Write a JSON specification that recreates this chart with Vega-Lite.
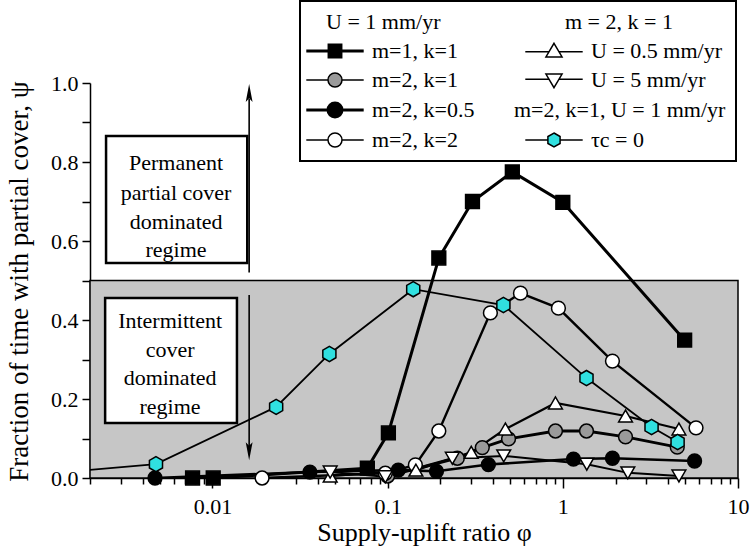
{
  "$schema": "https://vega.github.io/schema/vega-lite/v6.json",
  "width": 648,
  "height": 395,
  "autosize": {"type": "none"},
  "padding": {"left": 90, "top": 83, "right": 12, "bottom": 74},
  "background": "white",
  "datasets": {
    "series": [
      {"series": "m=1, k=1", "phi": 0.0077, "psi": 0},
      {"series": "m=1, k=1", "phi": 0.0101, "psi": 0},
      {"series": "m=1, k=1", "phi": 0.0766, "psi": 0.025},
      {"series": "m=1, k=1", "phi": 0.101, "psi": 0.114},
      {"series": "m=1, k=1", "phi": 0.196, "psi": 0.557},
      {"series": "m=1, k=1", "phi": 0.305, "psi": 0.7},
      {"series": "m=1, k=1", "phi": 0.515, "psi": 0.775},
      {"series": "m=1, k=1", "phi": 1.0, "psi": 0.698},
      {"series": "m=1, k=1", "phi": 4.96, "psi": 0.349},
      {"series": "m=2, k=1", "phi": 0.1, "psi": 0.005},
      {"series": "m=2, k=1", "phi": 0.25, "psi": 0.05},
      {"series": "m=2, k=1", "phi": 0.347, "psi": 0.077},
      {"series": "m=2, k=1", "phi": 0.49, "psi": 0.099},
      {"series": "m=2, k=1", "phi": 0.908, "psi": 0.119},
      {"series": "m=2, k=1", "phi": 1.365, "psi": 0.119},
      {"series": "m=2, k=1", "phi": 2.28, "psi": 0.104},
      {"series": "m=2, k=1", "phi": 4.5, "psi": 0.078},
      {"series": "m=2, k=0.5", "phi": 0.0047, "psi": 0},
      {"series": "m=2, k=0.5", "phi": 0.036, "psi": 0.015},
      {"series": "m=2, k=0.5", "phi": 0.115, "psi": 0.02},
      {"series": "m=2, k=0.5", "phi": 0.19, "psi": 0.017},
      {"series": "m=2, k=0.5", "phi": 0.376, "psi": 0.034},
      {"series": "m=2, k=0.5", "phi": 1.15, "psi": 0.048},
      {"series": "m=2, k=0.5", "phi": 1.92, "psi": 0.05},
      {"series": "m=2, k=0.5", "phi": 5.65, "psi": 0.043},
      {"series": "m=2, k=2", "phi": 0.0192, "psi": 0},
      {"series": "m=2, k=2", "phi": 0.097, "psi": 0.012},
      {"series": "m=2, k=2", "phi": 0.144, "psi": 0.033},
      {"series": "m=2, k=2", "phi": 0.196, "psi": 0.119},
      {"series": "m=2, k=2", "phi": 0.386, "psi": 0.418},
      {"series": "m=2, k=2", "phi": 0.573, "psi": 0.468},
      {"series": "m=2, k=2", "phi": 0.944, "psi": 0.43},
      {"series": "m=2, k=2", "phi": 1.92, "psi": 0.296},
      {"series": "m=2, k=2", "phi": 5.76, "psi": 0.127},
      {"series": "U = 0.5 mm/yr", "phi": 0.047, "psi": 0.005},
      {"series": "U = 0.5 mm/yr", "phi": 0.145, "psi": 0.02},
      {"series": "U = 0.5 mm/yr", "phi": 0.3, "psi": 0.065},
      {"series": "U = 0.5 mm/yr", "phi": 0.47, "psi": 0.124},
      {"series": "U = 0.5 mm/yr", "phi": 0.908, "psi": 0.19},
      {"series": "U = 0.5 mm/yr", "phi": 2.28, "psi": 0.157},
      {"series": "U = 0.5 mm/yr", "phi": 4.6, "psi": 0.124},
      {"series": "U = 5 mm/yr", "phi": 0.047, "psi": 0.015},
      {"series": "U = 5 mm/yr", "phi": 0.097, "psi": 0.003},
      {"series": "U = 5 mm/yr", "phi": 0.234, "psi": 0.05},
      {"series": "U = 5 mm/yr", "phi": 0.46, "psi": 0.056},
      {"series": "U = 5 mm/yr", "phi": 1.37, "psi": 0.035},
      {"series": "U = 5 mm/yr", "phi": 2.35, "psi": 0.013},
      {"series": "U = 5 mm/yr", "phi": 4.6, "psi": 0.005},
      {"series": "τc = 0", "phi": 0.001, "psi": 0.009},
      {"series": "τc = 0", "phi": 0.00476, "psi": 0.035},
      {"series": "τc = 0", "phi": 0.0231, "psi": 0.18},
      {"series": "τc = 0", "phi": 0.0465, "psi": 0.314},
      {"series": "τc = 0", "phi": 0.14, "psi": 0.478},
      {"series": "τc = 0", "phi": 0.458, "psi": 0.438},
      {"series": "τc = 0", "phi": 1.365, "psi": 0.253},
      {"series": "τc = 0", "phi": 3.21, "psi": 0.129},
      {"series": "τc = 0", "phi": 4.52, "psi": 0.091}
    ],
    "regime": [
      {"phi": 0.002, "phi2": 10, "psi": 0, "psi2": 0.5}
    ],
    "boxes": [
      {"phi": 0.00247, "phi2": 0.0158, "psi": 0.544, "psi2": 0.866},
      {"phi": 0.00244, "phi2": 0.0138, "psi": 0.139, "psi2": 0.456}
    ],
    "notes": [
      {"phi": 0.0062, "psi": 0.797, "label": "Permanent"},
      {"phi": 0.0062, "psi": 0.7215, "label": "partial cover"},
      {"phi": 0.0062, "psi": 0.648, "label": "dominated"},
      {"phi": 0.0062, "psi": 0.577, "label": "regime"},
      {"phi": 0.00573, "psi": 0.397, "label": "Intermittent"},
      {"phi": 0.00573, "psi": 0.324, "label": "cover"},
      {"phi": 0.00573, "psi": 0.253, "label": "dominated"},
      {"phi": 0.00573, "psi": 0.18, "label": "regime"}
    ],
    "shafts": [
      {"phi": 0.0162, "psi": 0.52, "psi2": 0.96},
      {"phi": 0.0162, "psi": 0.463, "psi2": 0.08}
    ],
    "heads": [
      {"phi": 0.0162, "psi": 0.975, "dir": "up"},
      {"phi": 0.0162, "psi": 0.068, "dir": "down"}
    ],
    "legendEntries": [
      {"entry": "U = 1 mm/yr"},
      {"entry": "m=1, k=1"},
      {"entry": "m=2, k=1"},
      {"entry": "m=2, k=0.5"},
      {"entry": "m=2, k=2"},
      {"entry": "m = 2, k = 1"},
      {"entry": "U = 0.5 mm/yr"},
      {"entry": "U = 5 mm/yr"},
      {"entry": "m=2, k=1, U = 1 mm/yr"},
      {"entry": "τc = 0"}
    ]
  },
  "encoding": {
    "x": {
      "field": "phi",
      "type": "quantitative",
      "scale": {"type": "log", "domain": [0.002, 10], "nice": false},
      "axis": {
        "title": "Supply-uplift ratio φ",
        "values": [0.002, 0.003, 0.004, 0.005, 0.006, 0.007, 0.008, 0.009,
                   0.01, 0.02, 0.03, 0.04, 0.05, 0.06, 0.07, 0.08, 0.09,
                   0.1, 0.2, 0.3, 0.4, 0.5, 0.6, 0.7, 0.8, 0.9,
                   1, 2, 3, 4, 5, 6, 7, 8, 9, 10],
        "labelExpr": "datum.value == 0.01 ? '0.01' : datum.value == 0.1 ? '0.1' : datum.value == 1 ? '1' : datum.value == 10 ? '10' : ''",
        "tickSize": {"condition": {"test": "indexof([0.01, 0.1, 1, 10], datum.value) >= 0", "value": 10}, "value": 6},
        "labelPadding": 8,
        "labelOverlap": false,
        "labelFlush": false,
        "grid": false,
        "titleX": 334,
        "titleY": 54,
        "titleAlign": "center",
        "titleBaseline": "middle"
      }
    },
    "y": {
      "field": "psi",
      "type": "quantitative",
      "scale": {"domain": [0, 1], "nice": false, "zero": false},
      "axis": {
        "title": "Fraction of time with partial cover, ψ",
        "titleFontSize": 27,
        "values": [0, 0.1, 0.2, 0.3, 0.4, 0.5, 0.6, 0.7, 0.8, 0.9, 1],
        "labelExpr": "indexof([0, 0.2, 0.4, 0.6, 0.8, 1], datum.value) >= 0 ? format(datum.value, '.1f') : ''",
        "tickSize": 8,
        "labelPadding": 4,
        "labelOverlap": false,
        "labelFlush": false,
        "grid": false,
        "titleX": -71,
        "titleY": 198,
        "titleAlign": "center",
        "titleBaseline": "middle"
      }
    }
  },
  "layer": [
    {
      "data": {"name": "regime"},
      "mark": {"type": "rect", "fill": "#c6c6c6", "stroke": "black", "strokeWidth": 1.5},
      "encoding": {"x2": {"field": "phi2"}, "y2": {"field": "psi2"}}
    },
    {
      "data": {"name": "boxes"},
      "mark": {"type": "rect", "fill": "white", "stroke": "black", "strokeWidth": 2.5},
      "encoding": {"x2": {"field": "phi2"}, "y2": {"field": "psi2"}}
    },
    {
      "data": {"name": "notes"},
      "mark": {"type": "text", "font": "Liberation Serif", "fontSize": 22, "color": "black", "align": "center", "baseline": "middle"},
      "encoding": {"text": {"field": "label"}}
    },
    {
      "data": {"name": "shafts"},
      "mark": {"type": "rule", "color": "black", "strokeWidth": 1.6},
      "encoding": {"y2": {"field": "psi2"}}
    },
    {
      "data": {"name": "heads"},
      "mark": {"type": "point", "filled": true, "color": "black", "opacity": 1, "size": 324},
      "encoding": {
        "shape": {
          "field": "dir",
          "type": "nominal",
          "scale": {"domain": ["up", "down"], "range": ["M0,-1L0.38,1L0,0.6L-0.38,1Z", "M0,1L0.38,-1L0,-0.6L-0.38,-1Z"]},
          "legend": null
        }
      }
    },
    {
      "data": {"name": "series"},
      "mark": {"type": "line", "color": "black", "clip": true},
      "encoding": {
        "strokeWidth": {
          "field": "series",
          "type": "nominal",
          "scale": {
            "domain": ["m=1, k=1", "m=2, k=1", "m=2, k=0.5", "m=2, k=2", "U = 0.5 mm/yr", "U = 5 mm/yr", "τc = 0"],
            "range": [3, 1.8, 3, 1.8, 1.8, 1.8, 1.8]
          },
          "legend": null
        }
      }
    },
    {
      "data": {"name": "series"},
      "transform": [{"filter": "datum.phi >= 0.002"}],
      "mark": {"type": "point", "filled": true, "stroke": "black", "strokeWidth": 1.5, "opacity": 1, "size": 190},
      "encoding": {
        "shape": {
          "field": "series",
          "type": "nominal",
          "scale": {
            "domain": ["m=1, k=1", "m=2, k=1", "m=2, k=0.5", "m=2, k=2", "U = 0.5 mm/yr", "U = 5 mm/yr", "τc = 0"],
            "range": ["square", "circle", "circle", "circle", "triangle-up", "triangle-down", "M0,-1.1L0.95,-0.55V0.55L0,1.1L-0.95,0.55V-0.55Z"]
          },
          "legend": null
        },
        "fill": {
          "field": "series",
          "type": "nominal",
          "scale": {
            "domain": ["m=1, k=1", "m=2, k=1", "m=2, k=0.5", "m=2, k=2", "U = 0.5 mm/yr", "U = 5 mm/yr", "τc = 0"],
            "range": ["black", "#9a9a9a", "black", "white", "white", "white", "#30e0e0"]
          },
          "legend": null
        }
      }
    },
    {
      "data": {"name": "legendEntries"},
      "transform": [{"filter": "false"}],
      "mark": {"type": "point", "filled": true, "stroke": "black", "strokeWidth": 1.5, "size": 196, "opacity": 1},
      "encoding": {
        "shape": {
          "field": "entry",
          "type": "nominal",
          "scale": {
            "domain": ["U = 1 mm/yr", "m=1, k=1", "m=2, k=1", "m=2, k=0.5", "m=2, k=2", "m = 2, k = 1", "U = 0.5 mm/yr", "U = 5 mm/yr", "m=2, k=1, U = 1 mm/yr", "τc = 0"],
            "range": [
              "M-4.1,0H4.1",
              "M-4.1,0H-0.85M0.85,0H4.1M-0.85,-0.85H0.85V0.85H-0.85Z",
              "M-4.1,0H-1M1,0H4.1M-1,0A1,1,0,1,1,1,0A1,1,0,1,1,-1,0Z",
              "M-4.1,0H-1M1,0H4.1M-1,0A1,1,0,1,1,1,0A1,1,0,1,1,-1,0Z",
              "M-4.1,0H-1M1,0H4.1M-1,0A1,1,0,1,1,1,0A1,1,0,1,1,-1,0Z",
              "M-4.1,0H4.1",
              "M-4.1,0.1H-0.7M0.7,0.1H4.1M0,-1.1L1.15,0.85H-1.15Z",
              "M-4.1,-0.1H-0.7M0.7,-0.1H4.1M0,1.1L1.15,-0.85H-1.15Z",
              "M-4.1,0H4.1",
              "M-4.1,0H-0.87M0.87,0H4.1M0,-1L0.87,-0.5V0.5L0,1L-0.87,0.5V-0.5Z"
            ]
          },
          "legend": {
            "title": null,
            "orient": "none",
            "legendX": 210,
            "legendY": -82,
            "direction": "vertical",
            "columns": 2,
            "columnPadding": 39,
            "rowPadding": 6,
            "padding": 10,
            "fillColor": "white",
            "strokeColor": "black",
            "symbolSize": 196,
            "symbolOffset": 14,
            "symbolStrokeColor": "black",
            "symbolStrokeWidth": 1.5,
            "symbolOpacity": 1,
            "labelFont": "Liberation Serif",
            "labelFontSize": 22,
            "labelColor": "black",
            "labelOffset": 26,
            "labelLimit": 400,
            "encode": {
              "legend": {"update": {"strokeWidth": {"value": 2}}},
              "labels": {
                "update": {
                  "dx": {"signal": "datum.value === 'U = 1 mm/yr' ? -46 : datum.value === 'm = 2, k = 1' ? -26 : datum.value === 'm=2, k=1, U = 1 mm/yr' ? -77 : 0"}
                }
              },
              "symbols": {
                "update": {
                  "stroke": {"value": "black"},
                  "opacity": {"signal": "indexof(['U = 1 mm/yr', 'm = 2, k = 1', 'm=2, k=1, U = 1 mm/yr'], datum.value) >= 0 ? 0 : 1"},
                  "strokeWidth": {"signal": "datum.value === 'm=1, k=1' || datum.value === 'm=2, k=0.5' ? 3 : 1.5"}
                }
              }
            }
          }
        },
        "fill": {
          "field": "entry",
          "type": "nominal",
          "scale": {
            "domain": ["U = 1 mm/yr", "m=1, k=1", "m=2, k=1", "m=2, k=0.5", "m=2, k=2", "m = 2, k = 1", "U = 0.5 mm/yr", "U = 5 mm/yr", "m=2, k=1, U = 1 mm/yr", "τc = 0"],
            "range": ["white", "black", "#9a9a9a", "black", "white", "white", "white", "white", "white", "#30e0e0"]
          },
          "legend": {
            "title": null,
            "orient": "none",
            "legendX": 210,
            "legendY": -82,
            "direction": "vertical",
            "columns": 2,
            "columnPadding": 39,
            "rowPadding": 6,
            "padding": 10,
            "fillColor": "white",
            "strokeColor": "black",
            "symbolSize": 196,
            "symbolOffset": 14,
            "symbolStrokeColor": "black",
            "symbolStrokeWidth": 1.5,
            "symbolOpacity": 1,
            "labelFont": "Liberation Serif",
            "labelFontSize": 22,
            "labelColor": "black",
            "labelOffset": 26,
            "labelLimit": 400,
            "encode": {
              "legend": {"update": {"strokeWidth": {"value": 2}}},
              "labels": {
                "update": {
                  "dx": {"signal": "datum.value === 'U = 1 mm/yr' ? -46 : datum.value === 'm = 2, k = 1' ? -26 : datum.value === 'm=2, k=1, U = 1 mm/yr' ? -77 : 0"}
                }
              },
              "symbols": {
                "update": {
                  "stroke": {"value": "black"},
                  "opacity": {"signal": "indexof(['U = 1 mm/yr', 'm = 2, k = 1', 'm=2, k=1, U = 1 mm/yr'], datum.value) >= 0 ? 0 : 1"},
                  "strokeWidth": {"signal": "datum.value === 'm=1, k=1' || datum.value === 'm=2, k=0.5' ? 3 : 1.5"}
                }
              }
            }
          }
        }
      }
    }
  ],
  "resolve": {"scale": {"shape": "independent", "fill": "independent", "strokeWidth": "independent"}},
  "config": {
    "view": {"stroke": null},
    "axis": {
      "domainColor": "black",
      "domainWidth": 1.5,
      "tickColor": "black",
      "tickWidth": 1.5,
      "labelFont": "Liberation Serif",
      "labelFontSize": 22,
      "labelColor": "black",
      "titleFont": "Liberation Serif",
      "titleFontSize": 26,
      "titleFontWeight": "normal",
      "titleColor": "black"
    }
  }
}
